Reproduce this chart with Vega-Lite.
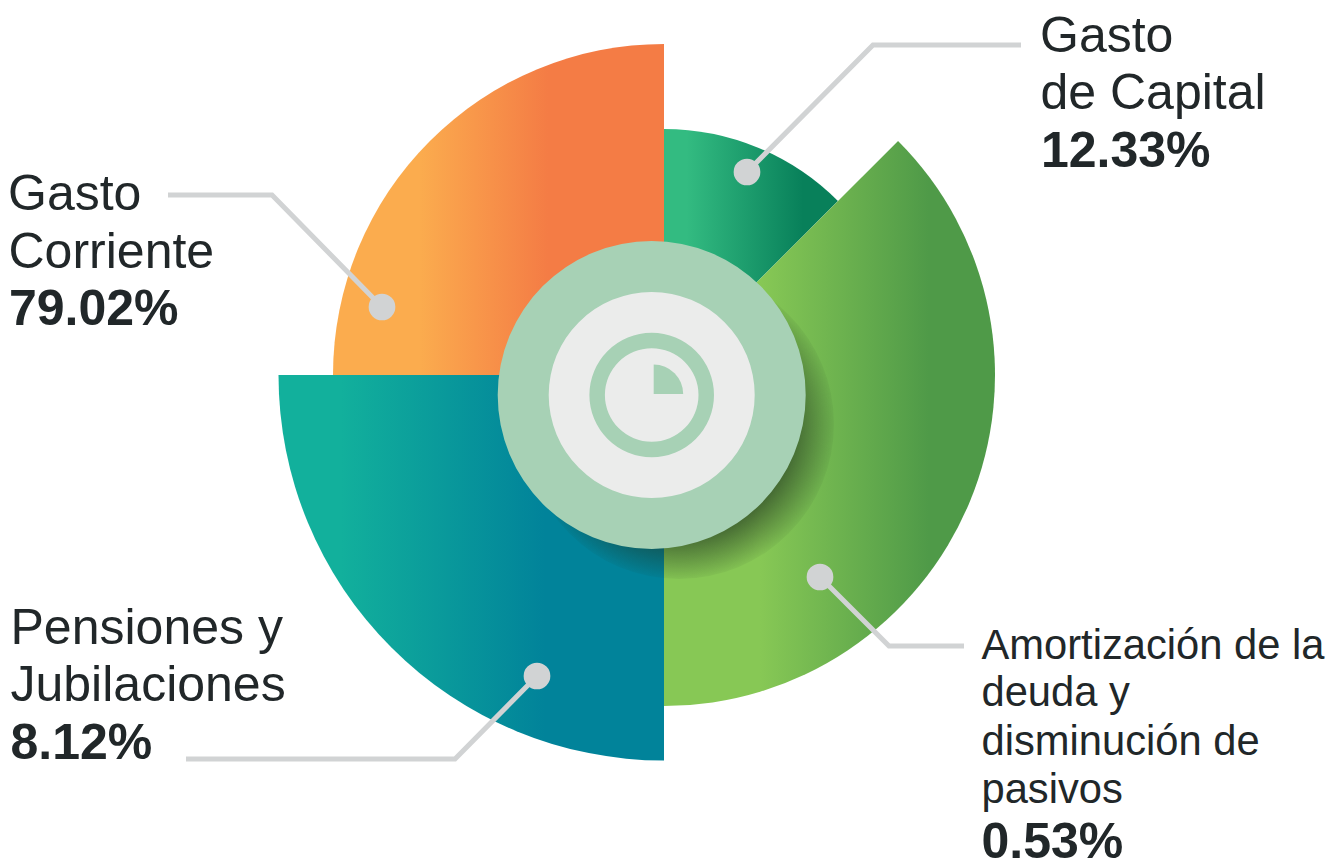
{
"$schema":"https://vega.github.io/schema/vega-lite/v6.json",
"width":1342,"height":861,"padding":0,
"autosize":{"type":"fit","contains":"padding"},
"background":"#ffffff",
"config":{"view":{"stroke":null}},
"datasets":{
"sectors":[
{"name":"Gasto Corriente","start":270,"end":360,"r":331,"cx":664,"cy":375},
{"name":"Gasto de Capital","start":0,"end":45,"r":246,"cx":664,"cy":375},
{"name":"Pensiones y Jubilaciones","start":180,"end":270,"r":385.5,"cx":664,"cy":375},
{"name":"Amortización","start":45,"end":180,"r":331,"cx":664,"cy":375}
],
"shadow":[{"name":"shadow","start":0,"end":360,"r":155,"cx":679,"cy":424}],
"discs":[
{"name":"outer","start":0,"end":360,"r":154,"r0":0,"cx":651.7,"cy":395},
{"name":"inner","start":0,"end":360,"r":103,"r0":0,"cx":651.7,"cy":395},
{"name":"ring","start":0,"end":360,"r":62.3,"r0":46.8,"cx":651.7,"cy":395},
{"name":"wedge","start":0,"end":90,"r":29.5,"r0":0,"cx":653.7,"cy":394}
],
"leaders":[
{"group":"capital","step":1,"px":747,"py":172},{"group":"capital","step":2,"px":873,"py":45},{"group":"capital","step":3,"px":1021,"py":45},
{"group":"corriente","step":1,"px":382,"py":307},{"group":"corriente","step":2,"px":272,"py":195},{"group":"corriente","step":3,"px":168,"py":195},
{"group":"pensiones","step":1,"px":537,"py":676},{"group":"pensiones","step":2,"px":455,"py":759},{"group":"pensiones","step":3,"px":186,"py":759},
{"group":"amortizacion","step":1,"px":820,"py":577},{"group":"amortizacion","step":2,"px":889,"py":646},{"group":"amortizacion","step":3,"px":964,"py":646}
],
"labels":[
{"text":"Gasto","kind":"large","px":1040,"py":52},
{"text":"de Capital","kind":"large","px":1040.5,"py":109},
{"text":"12.33%","kind":"bold","px":1041,"py":167},
{"text":"Gasto","kind":"large","px":8,"py":210},
{"text":"Corriente","kind":"large","px":8.5,"py":268},
{"text":"79.02%","kind":"bold","px":9,"py":325},
{"text":"Pensiones y","kind":"large","px":10.5,"py":644},
{"text":"Jubilaciones","kind":"large","px":10.5,"py":701},
{"text":"8.12%","kind":"bold","px":10.5,"py":759},
{"text":"Amortización de la","kind":"small","px":981.5,"py":659},
{"text":"deuda y","kind":"small","px":981.5,"py":706},
{"text":"disminución de","kind":"small","px":981.5,"py":755},
{"text":"pasivos","kind":"small","px":981.5,"py":803},
{"text":"0.53%","kind":"bold","px":981.5,"py":858}
]
},
"encoding":{
"x":{"field":"cx","type":"quantitative","axis":null,"scale":{"domain":[0,1342],"range":[0,1342],"nice":false,"zero":false}},
"y":{"field":"cy","type":"quantitative","axis":null,"scale":{"domain":[0,861],"range":[0,861],"nice":false,"zero":false}},
"theta":{"field":"start","type":"quantitative","stack":null,"scale":{"type":"linear","domain":[0,360],"range":[0,6.283185307]}},
"theta2":{"field":"end"},
"radius":{"field":"r","type":"quantitative","scale":{"type":"linear","domain":[0,500],"range":[0,500],"zero":true,"nice":false}}
},
"layer":[
{"data":{"name":"sectors"},"transform":[{"filter":"datum.name==='Gasto de Capital'"}],
"mark":{"type":"arc","fill":{"gradient":"linear","x1":0,"y1":0,"x2":1,"y2":0,"stops":[{"offset":0.13,"color":"#33BB81"},{"offset":0.8,"color":"#08805A"}]}}},
{"data":{"name":"sectors"},"transform":[{"filter":"datum.name==='Gasto Corriente'"}],
"mark":{"type":"arc","fill":{"gradient":"linear","x1":0,"y1":0,"x2":1,"y2":0,"stops":[{"offset":0.26,"color":"#FBAC4E"},{"offset":0.65,"color":"#F47C45"}]}}},
{"data":{"name":"sectors"},"transform":[{"filter":"datum.name==='Pensiones y Jubilaciones'"}],
"mark":{"type":"arc","fill":{"gradient":"linear","x1":0,"y1":0,"x2":1,"y2":0,"stops":[{"offset":0.16,"color":"#12B09C"},{"offset":0.69,"color":"#01839A"}]}}},
{"data":{"name":"sectors"},"transform":[{"filter":"datum.name==='Amortización'"}],
"mark":{"type":"arc","fill":{"gradient":"linear","x1":0,"y1":0,"x2":1,"y2":0,"stops":[{"offset":0.29,"color":"#87C855"},{"offset":0.8,"color":"#4F9A48"}]}}},
{"data":{"name":"shadow"},
"mark":{"type":"arc","fill":{"gradient":"radial","x1":0.5,"y1":0.5,"r1":0,"x2":0.5,"y2":0.5,"r2":0.5,"stops":[{"offset":0,"color":"rgba(30,50,30,0.65)"},{"offset":0.72,"color":"rgba(30,50,30,0.65)"},{"offset":1,"color":"rgba(30,50,30,0.05)"}]}}},
{"data":{"name":"discs"},"mark":{"type":"arc"},
"encoding":{"radius2":{"field":"r0"},
"color":{"field":"name","type":"nominal","legend":null,"scale":{"domain":["outer","inner","ring","wedge"],"range":["#A7D1B5","#EBECEB","#A7D1B5","#A7D1B5"]}}}},
{"data":{"name":"leaders"},
"mark":{"type":"line","stroke":"#D1D3D4","strokeWidth":5,"strokeJoin":"miter","strokeCap":"butt"},
"encoding":{"x":{"field":"px","type":"quantitative"},"y":{"field":"py","type":"quantitative"},"detail":{"field":"group"},"order":{"field":"step"},"theta":null,"theta2":null,"radius":null}},
{"data":{"name":"leaders"},"transform":[{"filter":"datum.step===1"}],
"mark":{"type":"point","filled":true,"shape":"circle","fill":"#D1D3D4","opacity":1,"size":713},
"encoding":{"x":{"field":"px","type":"quantitative"},"y":{"field":"py","type":"quantitative"},"theta":null,"theta2":null,"radius":null}},
{"data":{"name":"labels"},"transform":[{"filter":"datum.kind==='large'"}],
"mark":{"type":"text","font":"Liberation Sans","fontSize":50,"align":"left","baseline":"alphabetic","fill":"#212729"},
"encoding":{"x":{"field":"px","type":"quantitative"},"y":{"field":"py","type":"quantitative"},"text":{"field":"text"},"theta":null,"theta2":null,"radius":null}},
{"data":{"name":"labels"},"transform":[{"filter":"datum.kind==='small'"}],
"mark":{"type":"text","font":"Liberation Sans","fontSize":41.7,"align":"left","baseline":"alphabetic","fill":"#212729"},
"encoding":{"x":{"field":"px","type":"quantitative"},"y":{"field":"py","type":"quantitative"},"text":{"field":"text"},"theta":null,"theta2":null,"radius":null}},
{"data":{"name":"labels"},"transform":[{"filter":"datum.kind==='bold'"}],
"mark":{"type":"text","font":"Liberation Sans","fontWeight":"bold","fontSize":50,"align":"left","baseline":"alphabetic","fill":"#212729"},
"encoding":{"x":{"field":"px","type":"quantitative"},"y":{"field":"py","type":"quantitative"},"text":{"field":"text"},"theta":null,"theta2":null,"radius":null}}
]
}
